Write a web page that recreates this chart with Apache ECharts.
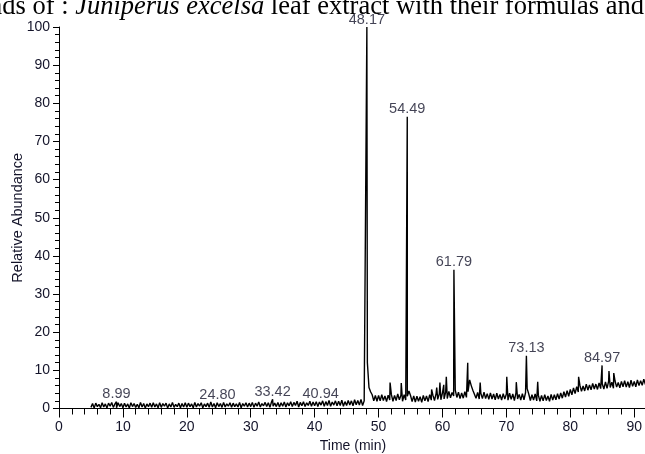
<!DOCTYPE html>
<html>
<head>
<meta charset="utf-8">
<script src="https://cdn.jsdelivr.net/npm/echarts@6/dist/echarts.min.js"></script>
<style>
html,body{margin:0;padding:0;background:#fff;}
#chart{width:645px;height:454px;}
</style>
</head>
<body>
<div id="chart"></div>
<script>
// Baseline trace, sampled every 0.25 min starting at 5.0 min (Relative Abundance, %)
const baseStart = 5.0;
const baseStep = 0.25;
const baseline = [
  // 5 - 10
  0.3,1.3,0.1,1.4,0.5,1.1,0.2,1.5,0.4,1.2,0.1,1.4,0.6,1.6,0.3,1.2,0.2,1.5,0.5,1.3,
  // 10 - 15
  0.2,1.4,0.4,1.2,0.1,1.5,0.5,1.3,0.3,1.1,0.2,1.6,0.4,1.3,0.1,1.2,0.5,1.4,0.3,1.5,
  // 15 - 20
  0.4,1.2,0.2,1.5,0.3,1.3,0.6,1.4,0.1,1.2,0.4,1.6,0.3,1.1,0.5,1.4,0.2,1.3,0.4,1.5,
  // 20 - 25
  0.3,1.4,0.5,1.2,0.2,1.6,0.4,1.3,0.6,1.5,0.2,1.2,0.5,1.4,0.3,1.7,0.4,1.3,0.2,1.5,
  // 25 - 30
  0.5,1.3,0.3,1.6,0.4,1.2,0.6,1.5,0.3,1.4,0.5,1.2,0.4,1.6,0.2,1.3,0.6,1.5,0.4,1.4,
  // 30 - 35
  0.5,1.6,0.3,1.4,0.6,1.7,0.4,1.3,0.7,1.6,0.5,1.5,0.3,1.7,0.6,1.4,0.5,1.6,0.4,1.5,
  // 35 - 40
  0.6,1.7,0.4,1.5,0.7,1.8,0.5,1.6,0.8,1.9,0.4,1.6,0.7,1.8,0.5,1.5,0.8,1.9,0.6,1.7,
  // 40 - 45
  0.7,1.8,0.5,1.7,0.9,2.0,0.6,1.8,0.8,2.1,0.6,1.7,0.9,2.0,0.7,1.9,0.8,2.2,0.6,1.8,
  // 45 - 48
  0.8,2.1,0.9,2.0,0.7,2.3,1.0,2.1,0.9,2.4,0.8,2.0,
  // 48 - 50
  1.6,12.0,5.5,4.4,3.6,2.0,3.4,1.9,
  // 50 - 55
  3.4,2.0,3.6,2.1,3.3,1.8,3.5,2.2,3.7,1.9,3.4,2.1,3.8,2.3,3.5,1.9,3.6,2.2,3.2,4.6,
  // 55 - 60
  3.4,1.8,3.3,1.7,3.2,1.9,3.1,1.6,3.4,2.0,3.3,1.8,3.6,2.2,3.5,2.1,3.9,2.4,3.8,2.3,
  // 60 - 65
  4.1,2.5,4.3,2.6,4.5,2.8,4.2,3.3,4.8,2.9,4.3,2.6,4.1,2.7,4.4,2.9,4.4,7.5,6.0,4.8,
  // 65 - 70
  4.4,2.7,4.2,2.5,4.0,2.6,4.3,2.6,3.9,2.4,4.1,2.5,3.8,2.3,4.0,2.5,3.7,2.2,3.9,2.5,
  // 70 - 75
  3.8,2.2,4.0,2.4,3.8,2.1,4.1,2.5,3.7,2.2,3.9,2.3,4.2,5.2,3.8,2.1,3.6,2.2,3.8,2.0,
  // 75 - 80
  3.5,1.9,3.4,2.0,3.6,2.1,3.3,1.9,3.7,2.2,3.6,2.3,3.9,2.5,4.1,2.7,4.4,3.0,4.7,3.2,
  // 80 - 85
  5.0,3.6,5.4,3.9,5.7,4.3,6.1,4.5,5.9,4.6,6.4,4.8,6.2,4.9,6.6,5.1,6.4,5.0,6.7,5.2,
  // 85 - 90
  6.5,5.1,7.0,5.3,7.2,5.5,6.9,5.3,7.2,5.6,6.8,5.4,7.1,5.7,7.3,5.6,7.0,5.5,7.4,5.8,
  // 90 - 92
  7.1,5.7,7.5,6.0,7.3,6.1,7.7,6.3,7.6
];

// Peak apexes (retention time in min, relative abundance %)
const peakTimes   = [8.99, 24.80, 33.42, 40.94, 48.17, 51.8, 53.55, 54.49, 58.3, 59.1, 59.6, 60.2, 60.6, 61.79, 63.95, 65.9, 70.06, 71.55, 73.13, 74.9, 81.3, 84.97, 86.05, 86.8, 88.55];
const peakHeights = [1.8,  1.7,   2.4,   1.9,   100,   6.8,  6.7,   76.5,  5.0,  5.5,  6.8,  6.2,  8.3,  36.4,  12.0,  6.8,  8.3,   6.9,   13.8,  7.0,  8.3,  11.3,  9.8,   9.3,  7.8];

// Labelled peaks
const labelTimes = [8.99, 24.80, 33.42, 40.94, 48.17, 54.49, 61.79, 73.13, 84.97];

// Axis ticks
const xTicks = [0, 10, 20, 30, 40, 50, 60, 70, 80, 90];
const yTicks = [0, 10, 20, 30, 40, 50, 60, 70, 80, 90, 100];

// Build trace
const trace = baseline.map((v, i) => [baseStart + i * baseStep, v]);
peakTimes.forEach((t, i) => trace.push([t, peakHeights[i]]));
trace.sort((a, b) => a[0] - b[0]);

const labelData = labelTimes.map(t => ({ value: [t, peakHeights[peakTimes.indexOf(t)]] }));

const textColor = '#14142a';
const chart = echarts.init(document.getElementById('chart'), null, { renderer: 'canvas' });
chart.setOption({
  animation: false,
  backgroundColor: '#fff',
  graphic: [{
    type: 'text',
    x: -11,
    y: -6.5,
    style: {
      text: '{n|nds of : }{i|Juniperus excelsa}{n| leaf extract with their formulas and}',
      rich: {
        n: { fontFamily: 'Liberation Serif', fontSize: 26.5, fill: '#000' },
        i: { fontFamily: 'Liberation Serif', fontSize: 26.5, fontStyle: 'italic', fill: '#000' }
      }
    }
  }],
  grid: { left: 59, top: 27, width: 588, height: 381.5, containLabel: false, outerBoundsMode: 'none' },
  xAxis: {
    type: 'value',
    min: 0,
    max: 92,
    interval: 10,
    name: 'Time (min)',
    nameLocation: 'middle',
    nameGap: 31,
    nameMoveOverlap: false,
    nameTextStyle: { fontFamily: 'Liberation Sans', fontSize: 14, color: textColor },
    axisLine: { show: true, onZero: false, lineStyle: { color: '#000', width: 1 } },
    axisTick: { show: true, inside: false, length: 9, lineStyle: { color: '#000' } },
    minorTick: { show: true, splitNumber: 5, length: 6, lineStyle: { color: '#000' } },
    axisLabel: {
      fontFamily: 'Liberation Sans', fontSize: 14, color: textColor, margin: 12,
      showMaxLabel: false,
      formatter: v => (xTicks.indexOf(v) >= 0 ? String(v) : '')
    },
    splitLine: { show: false }
  },
  yAxis: {
    type: 'value',
    min: 0,
    max: 100,
    interval: 10,
    name: 'Relative Abundance',
    nameLocation: 'middle',
    nameGap: 34,
    nameMoveOverlap: false,
    nameTextStyle: { fontFamily: 'Liberation Sans', fontSize: 14.5, color: textColor },
    axisLine: { show: true, lineStyle: { color: '#000', width: 1 } },
    axisTick: { show: true, inside: false, length: 6, lineStyle: { color: '#000' } },
    minorTick: { show: true, splitNumber: 5, length: 4, lineStyle: { color: '#000' } },
    axisLabel: {
      fontFamily: 'Liberation Sans', fontSize: 14, color: textColor, margin: 9,
      formatter: v => (yTicks.indexOf(v) >= 0 ? String(v) : '')
    },
    splitLine: { show: false }
  },
  series: [
    {
      type: 'line',
      data: trace,
      showSymbol: false,
      symbol: 'none',
      clip: true,
      lineStyle: { color: '#000', width: 1.4 },
      z: 2
    },
    {
      type: 'scatter',
      data: labelData,
      symbolSize: 0,
      silent: true,
      label: {
        show: true,
        position: 'top',
        distance: 0,
        fontFamily: 'Liberation Sans',
        fontSize: 14.5,
        color: textColor,
        formatter: p => p.value[0].toFixed(2)
      },
      z: 3
    }
  ]
});
</script>
</body>
</html>
